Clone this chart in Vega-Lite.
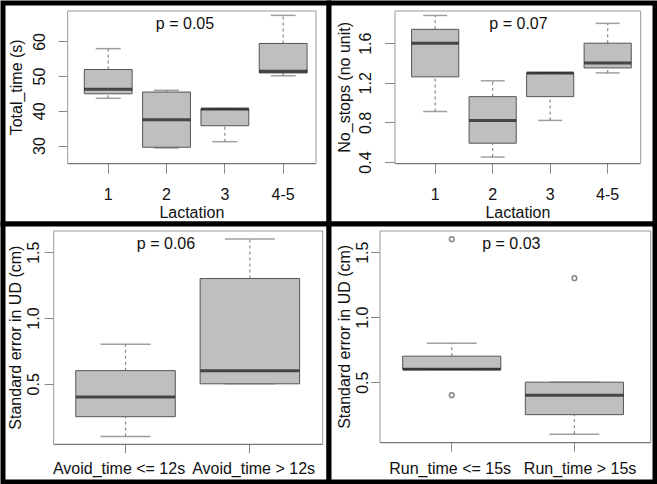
{
  "$schema": "https://vega.github.io/schema/vega-lite/v6.json",
  "padding": 0,
  "background": "white",
  "bounds": "flush",
  "spacing": 0,
  "columns": 2,
  "datasets": {
    "total_time": [
      {"group": "1", "lo": 43.6, "q1": 44.9, "med": 46.2, "q3": 51.9, "hi": 57.9},
      {"group": "2", "lo": 29.3, "q1": 29.5, "med": 37.4, "q3": 45.4, "hi": 45.9},
      {"group": "3", "lo": 31.1, "q1": 35.7, "med": 40.5, "q3": 40.5, "hi": 40.5},
      {"group": "4-5", "lo": 50.1, "q1": 50.9, "med": 51.4, "q3": 59.4, "hi": 67.5}
    ],
    "no_stops": [
      {"group": "1", "lo": 0.91, "q1": 1.26, "med": 1.6, "q3": 1.74, "hi": 1.88},
      {"group": "2", "lo": 0.45, "q1": 0.59, "med": 0.82, "q3": 1.06, "hi": 1.22},
      {"group": "3", "lo": 0.82, "q1": 1.06, "med": 1.3, "q3": 1.3, "hi": 1.3},
      {"group": "4-5", "lo": 1.3, "q1": 1.35, "med": 1.4, "q3": 1.6, "hi": 1.8}
    ],
    "avoid_time": [
      {"group": "Avoid_time <= 12s", "lo": 0.1, "q1": 0.25, "med": 0.4, "q3": 0.6, "hi": 0.8},
      {"group": "Avoid_time > 12s", "lo": 0.5, "q1": 0.5, "med": 0.6, "q3": 1.3, "hi": 1.6}
    ],
    "run_time": [
      {"group": "Run_time <= 15s", "lo": 0.6, "q1": 0.6, "med": 0.6, "q3": 0.7, "hi": 0.8},
      {"group": "Run_time > 15s", "lo": 0.1, "q1": 0.25, "med": 0.4, "q3": 0.5, "hi": 0.5}
    ],
    "run_time_outliers": [
      {"group": "Run_time <= 15s", "value": 1.6},
      {"group": "Run_time <= 15s", "value": 0.4},
      {"group": "Run_time > 15s", "value": 1.3}
    ]
  },
  "concat": [
    {
      "width": 326,
      "height": 221,
      "data": {"name": "total_time"},
      "title": {"text": "p = 0.05", "offset": -29.3, "dx": 19},
      "resolve": {"axis": {"x": "independent", "y": "independent"}},
      "layer": [
        {
          "encoding": {
            "x": {
              "field": "group", "type": "nominal", "sort": null,
              "scale": {"range": [64.2, 312.5], "paddingInner": 0, "paddingOuter": 0.1286, "align": 0.79},
              "axis": {"orient": "bottom", "offset": -60.8, "title": "Lactation", "labelAngle": 0, "labelBaseline": "alphabetic", "tickSize": 10, "labelPadding": 26.3, "titleBaseline": "alphabetic", "titleY": 54, "domainColor": "#555"}
            }
          },
          "layer": [
            {"mark": {"type": "rule", "strokeDash": [3, 3], "color": "#8a8a8a", "strokeWidth": 1.2},
             "encoding": {"y": {"field": "q3", "type": "quantitative"}, "y2": {"field": "hi"}}},
            {"mark": {"type": "rule", "strokeDash": [3, 3], "color": "#8a8a8a", "strokeWidth": 1.2},
             "encoding": {"y": {"field": "lo", "type": "quantitative"}, "y2": {"field": "q1"}}},
            {"mark": {"type": "tick", "size": 25, "thickness": 1.5, "color": "#777"},
             "encoding": {"y": {"field": "hi", "type": "quantitative"}}},
            {"mark": {"type": "tick", "size": 25, "thickness": 1.5, "color": "#777"},
             "encoding": {"y": {"field": "lo", "type": "quantitative"}}},
            {"mark": {"type": "bar", "width": {"band": 0.82}, "fill": "#bfbfbf", "stroke": "#555", "strokeWidth": 1},
             "encoding": {"y": {"field": "q1", "type": "quantitative"}, "y2": {"field": "q3"}}},
            {"mark": {"type": "tick", "size": 48, "thickness": 3, "color": "#111"},
             "encoding": {"y": {
               "field": "med", "type": "quantitative",
               "scale": {"domain": [24.9, 68.9], "range": [160.2, 7.5], "nice": false, "zero": false},
               "axis": {"orient": "left", "offset": -64.2, "title": "Total_time (s)", "values": [30, 40, 50, 60], "labelAngle": -90, "labelAlign": "center", "labelBaseline": "alphabetic", "tickSize": 9, "labelPadding": 13.5, "titleAngle": -90, "titleBaseline": "alphabetic", "titleX": -45.7}
             }}}
          ]
        },
        {
          "mark": {"type": "point", "opacity": 0},
          "encoding": {
            "x": {"field": "group", "type": "nominal", "sort": null, "axis": {"orient": "top", "offset": -7.5, "labels": false, "ticks": false, "title": null}},
            "y": {"field": "med", "type": "quantitative", "axis": {"orient": "right", "offset": -13.5, "labels": false, "ticks": false, "title": null}}
          }
        }
      ]
    },
    {
      "width": 326,
      "height": 221,
      "data": {"name": "no_stops"},
      "title": {"text": "p = 0.07", "offset": -29.3, "dx": 26.5},
      "resolve": {"axis": {"x": "independent", "y": "independent"}},
      "layer": [
        {
          "encoding": {
            "x": {
              "field": "group", "type": "nominal", "sort": null,
              "scale": {"range": [65.5, 311.2], "paddingInner": 0, "paddingOuter": 0.1365, "align": 0.76},
              "axis": {"orient": "bottom", "offset": -60.8, "title": "Lactation", "labelAngle": 0, "labelBaseline": "alphabetic", "tickSize": 10, "labelPadding": 26, "titleBaseline": "alphabetic", "titleY": 54, "domainColor": "#555"}
            }
          },
          "layer": [
            {"mark": {"type": "rule", "strokeDash": [3, 3], "color": "#8a8a8a", "strokeWidth": 1.2},
             "encoding": {"y": {"field": "q3", "type": "quantitative"}, "y2": {"field": "hi"}}},
            {"mark": {"type": "rule", "strokeDash": [3, 3], "color": "#8a8a8a", "strokeWidth": 1.2},
             "encoding": {"y": {"field": "lo", "type": "quantitative"}, "y2": {"field": "q1"}}},
            {"mark": {"type": "tick", "size": 24, "thickness": 1.5, "color": "#777"},
             "encoding": {"y": {"field": "hi", "type": "quantitative"}}},
            {"mark": {"type": "tick", "size": 24, "thickness": 1.5, "color": "#777"},
             "encoding": {"y": {"field": "lo", "type": "quantitative"}}},
            {"mark": {"type": "bar", "width": {"band": 0.82}, "fill": "#bfbfbf", "stroke": "#555", "strokeWidth": 1},
             "encoding": {"y": {"field": "q1", "type": "quantitative"}, "y2": {"field": "q3"}}},
            {"mark": {"type": "tick", "size": 47, "thickness": 3, "color": "#111"},
             "encoding": {"y": {
               "field": "med", "type": "quantitative",
               "scale": {"domain": [0.388, 1.93], "range": [160.2, 7.5], "nice": false, "zero": false},
               "axis": {"orient": "left", "offset": -65.5, "title": "No_stops (no unit)", "values": [0.4, 0.6, 0.8, 1.0, 1.2, 1.4, 1.6, 1.8], "format": ".1f", "labelExpr": "indexof(['0.4', '0.8', '1.2', '1.6'], datum.label) >= 0 ? datum.label : ''", "labelAngle": -90, "labelAlign": "center", "labelBaseline": "alphabetic", "tickSize": 10, "labelPadding": 14.3, "titleAngle": -90, "titleBaseline": "alphabetic", "titleX": -45}
             }}}
          ]
        },
        {
          "mark": {"type": "point", "opacity": 0},
          "encoding": {
            "x": {"field": "group", "type": "nominal", "sort": null, "axis": {"orient": "top", "offset": -7.5, "labels": false, "ticks": false, "title": null}},
            "y": {"field": "med", "type": "quantitative", "axis": {"orient": "right", "offset": -14.8, "labels": false, "ticks": false, "title": null}}
          }
        }
      ]
    },
    {
      "width": 326,
      "height": 258,
      "data": {"name": "avoid_time"},
      "title": {"text": "p = 0.06", "offset": -28, "dx": 0},
      "resolve": {"axis": {"x": "independent", "y": "independent"}},
      "layer": [
        {
          "encoding": {
            "x": {
              "field": "group", "type": "nominal", "sort": null,
              "scale": {"range": [50.2, 319.2], "paddingInner": 0, "paddingOuter": 0.0817, "align": 0.5},
              "axis": {
                "orient": "bottom", "offset": -38.2, "title": null, "labelAngle": 0, "labelBaseline": "alphabetic", "tickSize": 9, "labelPadding": 21, "domainColor": "#555",
                "labelOffset": {"condition": {"test": "indexof(datum.value, '<=') >= 0", "value": -6.5}, "value": 3.7}
              }
            }
          },
          "layer": [
            {"mark": {"type": "rule", "strokeDash": [3, 3], "color": "#8a8a8a", "strokeWidth": 1.2},
             "encoding": {"y": {"field": "q3", "type": "quantitative"}, "y2": {"field": "hi"}}},
            {"mark": {"type": "rule", "strokeDash": [3, 3], "color": "#8a8a8a", "strokeWidth": 1.2},
             "encoding": {"y": {"field": "lo", "type": "quantitative"}, "y2": {"field": "q1"}}},
            {"mark": {"type": "tick", "size": 50, "thickness": 1.5, "color": "#777"},
             "encoding": {"y": {"field": "hi", "type": "quantitative"}}},
            {"mark": {"type": "tick", "size": 50, "thickness": 1.5, "color": "#777"},
             "encoding": {"y": {"field": "lo", "type": "quantitative"}}},
            {"mark": {"type": "bar", "width": {"band": 0.8}, "fill": "#bfbfbf", "stroke": "#555", "strokeWidth": 1},
             "encoding": {"y": {"field": "q1", "type": "quantitative"}, "y2": {"field": "q3"}}},
            {"mark": {"type": "tick", "size": 99, "thickness": 3, "color": "#111"},
             "encoding": {"y": {
               "field": "med", "type": "quantitative",
               "scale": {"domain": [0.044, 1.665], "range": [219.8, 6.5], "nice": false, "zero": false},
               "axis": {"orient": "left", "offset": -50.2, "title": "Standard error in UD (cm)", "values": [0.5, 1.0, 1.5], "format": ".1f", "labelAngle": -90, "labelAlign": "center", "labelBaseline": "alphabetic", "tickSize": 9, "labelPadding": 5.4, "titleAngle": -90, "titleBaseline": "alphabetic", "titleX": -32.7}
             }}}
          ]
        },
        {
          "mark": {"type": "point", "opacity": 0},
          "encoding": {
            "x": {"field": "group", "type": "nominal", "sort": null, "axis": {"orient": "top", "offset": -6.5, "labels": false, "ticks": false, "title": null}},
            "y": {"field": "med", "type": "quantitative", "axis": {"orient": "right", "offset": -6.8, "labels": false, "ticks": false, "title": null}}
          }
        }
      ]
    },
    {
      "width": 326,
      "height": 258,
      "data": {"name": "run_time"},
      "title": {"text": "p = 0.03", "offset": -28, "dx": 19.3},
      "resolve": {"axis": {"x": "independent", "y": "independent"}},
      "layer": [
        {
          "encoding": {
            "x": {
              "field": "group", "type": "nominal", "sort": null,
              "scale": {"range": [50.5, 321.2], "paddingInner": 0, "paddingOuter": 0.1035, "align": 0.43},
              "axis": {
                "orient": "bottom", "offset": -39.8, "title": null, "labelAngle": 0, "labelBaseline": "alphabetic", "tickSize": 9, "labelPadding": 22.6, "domainColor": "#555",
                "labelOffset": {"condition": {"test": "indexof(datum.value, '<=') >= 0", "value": -1.6}, "value": 5.7}
              }
            }
          },
          "layer": [
            {"mark": {"type": "rule", "strokeDash": [3, 3], "color": "#8a8a8a", "strokeWidth": 1.2},
             "encoding": {"y": {"field": "q3", "type": "quantitative"}, "y2": {"field": "hi"}}},
            {"mark": {"type": "rule", "strokeDash": [3, 3], "color": "#8a8a8a", "strokeWidth": 1.2},
             "encoding": {"y": {"field": "lo", "type": "quantitative"}, "y2": {"field": "q1"}}},
            {"mark": {"type": "tick", "size": 50, "thickness": 1.5, "color": "#777"},
             "encoding": {"y": {"field": "hi", "type": "quantitative"}}},
            {"mark": {"type": "tick", "size": 50, "thickness": 1.5, "color": "#777"},
             "encoding": {"y": {"field": "lo", "type": "quantitative"}}},
            {"mark": {"type": "bar", "width": {"band": 0.8}, "fill": "#bfbfbf", "stroke": "#555", "strokeWidth": 1},
             "encoding": {"y": {"field": "q1", "type": "quantitative"}, "y2": {"field": "q3"}}},
            {"mark": {"type": "tick", "size": 98, "thickness": 3, "color": "#111"},
             "encoding": {"y": {
               "field": "med", "type": "quantitative",
               "scale": {"domain": [0.038, 1.667], "range": [218.2, 6.5], "nice": false, "zero": false},
               "axis": {"orient": "left", "offset": -50.5, "title": "Standard error in UD (cm)", "values": [0.5, 1.0, 1.5], "format": ".1f", "labelAngle": -90, "labelAlign": "center", "labelBaseline": "alphabetic", "tickSize": 9, "labelPadding": 2.7, "titleAngle": -90, "titleBaseline": "alphabetic", "titleX": -30.3}
             }}},
            {"data": {"name": "run_time_outliers"},
             "mark": {"type": "point", "shape": "circle", "filled": false, "size": 22, "stroke": "#555", "strokeWidth": 1.5},
             "encoding": {"y": {"field": "value", "type": "quantitative"}}}
          ]
        },
        {
          "mark": {"type": "point", "opacity": 0},
          "encoding": {
            "x": {"field": "group", "type": "nominal", "sort": null, "axis": {"orient": "top", "offset": -6.5, "labels": false, "ticks": false, "title": null}},
            "y": {"field": "med", "type": "quantitative", "axis": {"orient": "right", "offset": -4.8, "labels": false, "ticks": false, "title": null}}
          }
        }
      ]
    }
  ],
  "config": {
    "font": "Liberation Sans",
    "view": {"stroke": "black", "strokeWidth": 5, "fill": "white"},
    "axis": {
      "grid": false,
      "labelFont": "Liberation Sans",
      "titleFont": "Liberation Sans",
      "labelFontSize": 16,
      "titleFontSize": 16,
      "titleFontWeight": "normal",
      "labelColor": "#111",
      "titleColor": "#111",
      "domainColor": "#999",
      "tickColor": "#888",
      "labelFlush": false,
      "labelOverlap": false
    },
    "title": {
      "font": "Liberation Sans",
      "fontSize": 16,
      "fontWeight": "normal",
      "color": "#111",
      "anchor": "middle",
      "frame": "group",
      "baseline": "alphabetic"
    }
  }
}
